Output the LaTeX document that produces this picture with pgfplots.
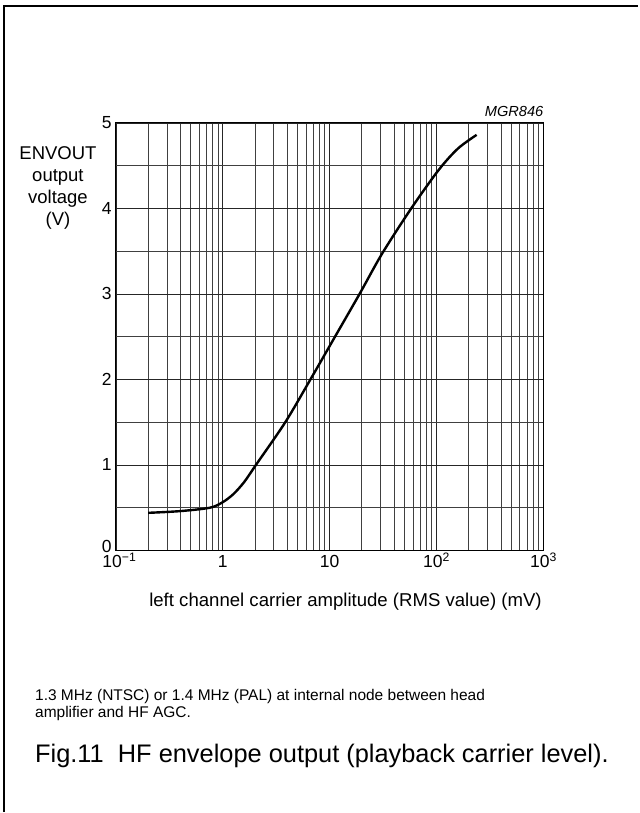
\documentclass[border=0pt]{standalone}
\usepackage{fontspec}
\setmainfont{Liberation Sans}
\usepackage{pgfplots}
\pgfplotsset{compat=1.18}
\begin{document}
\begin{tikzpicture}
% page of 639 x 813, origin top left
\path (0pt,0pt) rectangle (639pt,-813pt);
\draw[line width=1.6pt] (4pt,-813pt) -- (4pt,-6pt) -- (639pt,-6pt);
\begin{axis}[
  at={(116pt,-551pt)}, anchor=south west,
  scale only axis, width=428pt, height=428pt,
  xmode=log, xmin=0.1, xmax=1000, ymin=0, ymax=5,
  xtick={0.1,1,10,100,1000},
  xticklabels={\hspace{7pt}10\textsuperscript{\char"2212 1},1,10,10\textsuperscript{2},10\textsuperscript{3}},
  minor xtick={0.2,0.3,0.4,0.5,0.6,0.7,0.8,0.9,2,3,4,5,6,7,8,9,20,30,40,50,60,70,80,90,200,300,400,500,600,700,800,900},
  ytick={1,2,3,4,5},
  extra y ticks={0},
  extra y tick style={grid=none, yticklabel style={yshift=4pt}},
  minor ytick={0.5,1.5,2.5,3.5,4.5},
  grid=both,
  major grid style={black!85, line width=0.7pt},
  minor grid style={black!75, line width=0.7pt},
  axis line style={black, line width=0.8pt},
  major tick length=0pt, minor tick length=0pt,
  tick label style={font=\fontsize{17.5}{20}\selectfont, inner sep=1pt},
  /pgf/number format/assume math mode=true,
  xticklabel style={anchor=base, yshift=-17pt},
  yticklabel style={xshift=-3pt},
  xlabel={left channel carrier amplitude (RMS value) (mV)},
  xlabel style={font=\fontsize{18.6}{20}\selectfont,
    at={(rel axis cs:0.537,0)}, anchor=center, yshift=-51pt},
  ylabel={ENVOUT\\output\\voltage\\(V)},
  ylabel style={rotate=-90, align=center, font=\fontsize{18.5}{22}\selectfont,
    at={(rel axis cs:0,0.848)}, anchor=center, xshift=-58pt},
  clip=false,
]
\addplot[black, line width=2.4pt, smooth, tension=0.5] coordinates {
  (0.2,0.44) (0.398,0.46) (0.759,0.50) (1,0.565) (1.259,0.66) (1.585,0.80)
  (2.042,1.0) (3.846,1.5) (6.607,2.0) (11.22,2.5) (19.05,3.0) (30.9,3.47)
  (57.94,4.0) (104.7,4.45) (158.5,4.70) (237,4.86)
};
\node[anchor=south east, font=\itshape\fontsize{14.6}{16}\selectfont, inner sep=0pt] at (rel axis cs:1,1) [yshift=6pt] {MGR846};
\end{axis}
\node[anchor=west, align=left, inner sep=0pt, font=\fontsize{15.5}{17.5}\selectfont] at (35pt,-705.5pt)
  {1.3 MHz (NTSC) or 1.4 MHz (PAL) at internal node between head\\amplifier and HF AGC.};
\node[anchor=west, inner sep=0pt, font=\fontsize{25.4}{28}\selectfont] at (35pt,-757pt)
  {Fig.11\ \ HF envelope output (playback carrier level).};
\end{tikzpicture}
\end{document}
